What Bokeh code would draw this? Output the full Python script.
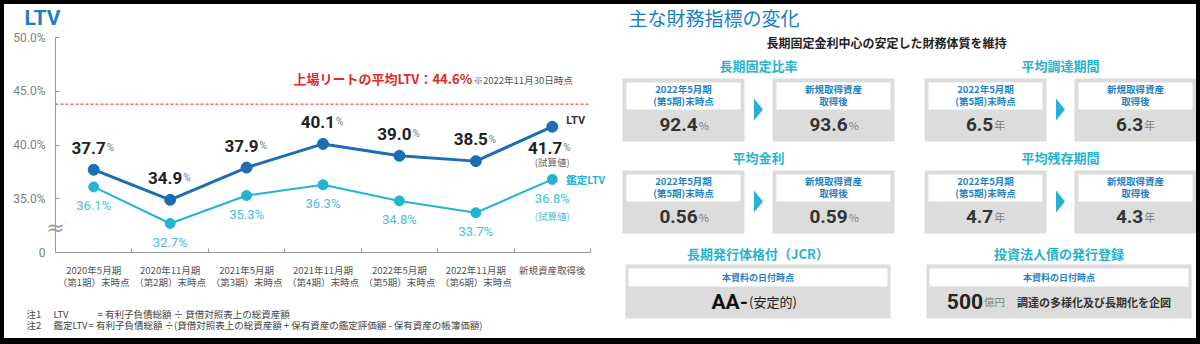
from bokeh.plotting import figure
from bokeh.models import Range1d, FixedTicker, Label, ColumnDataSource, Spacer
from bokeh.layouts import row, column
from bokeh.embed import file_html
from bokeh.resources import INLINE
from bokeh.core.properties import value

# ---------------- data (left chart) ----------------
periods = ["2020年5月期", "2020年11月期", "2021年5月期", "2021年11月期",
           "2022年5月期", "2022年11月期", "新規資産取得後"]
period_subs = ["（第1期）末時点", "（第2期）末時点", "（第3期）末時点", "（第4期）末時点",
               "（第5期）末時点", "（第6期）末時点", ""]
ltv = [37.7, 34.9, 37.9, 40.1, 39.0, 38.5, 41.7]
appraisal_ltv = [36.1, 32.7, 35.3, 36.3, 34.8, 33.7, 36.8]
listed_reit_avg_ltv = 44.6
avg_ltv_line_level = 43.8          # where the reference draws the dashed line
avg_ltv_asof = "※2022年11月30日時点"
estimate_note = "(試算値)"
y_ticks = [30, 35, 40, 45, 50]
y_tick_labels = ["0", "35.0%", "40.0%", "45.0%", "50.0%"]
note_ids = ["注1", "注2"]
note_terms = ["LTV", "鑑定LTV"]
note_formulas = ["= 有利子負債総額 ÷ 貸借対照表上の総資産額",
                 "= 有利子負債総額 ÷(貸借対照表上の総資産額 + 保有資産の鑑定評価額 - 保有資産の帳簿価額)"]

# ---------------- data (right panel) ----------------
panel_title = "主な財務指標の変化"
panel_subtitle = "長期固定金利中心の安定した財務体質を維持"
metric_names = ["長期固定比率", "平均調達期間", "平均金利", "平均残存期間"]
metric_before = ["92.4", "6.5", "0.56", "4.7"]
metric_after = ["93.6", "6.3", "0.59", "4.3"]
metric_units = ["%", "年", "%", "年"]
before_caption = "2022年5月期\n(第5期)末時点"
after_caption = "新規取得資産\n取得後"
asof_caption = "本資料の日付時点"
rating_title = "長期発行体格付（JCR）"
rating_value = "AA-"
rating_outlook = "(安定的)"
bond_title = "投資法人債の発行登録"
bond_amount = "500"
bond_unit = "億円"
bond_note = "調達の多様化及び長期化を企図"

# ---------------- styles ----------------
JP = "Noto Sans CJK JP"
NUM = "Roboto"
BLUE_T = "#1a80c2"
LTV_C = "#1b6db5"
ALTV_C = "#24b3d3"
ALTV_TXT = "#45bfdc"
CYAN = "#26b2cf"
RED = "#e02a2a"
AXIS_C = "#9a9a9a"
GRAY_BOX = "#dcdcdc"
BOX_TXT = "#2a7fbf"

# ---------------- page geometry (pixels) ----------------
PAGE_W, PAGE_H = 1200, 344
B_TOP, B_LEFT, B_RIGHT, B_BOT = 4, 4, 4, 6
SPLIT = 610                      # left / right panel boundary
INNER_H = PAGE_H - B_TOP - B_BOT
PLOT_L, PLOT_R, PLOT_T, PLOT_B = 55, 590, 37, 252   # LTV plot area
Y_LO, Y_HI = 30, 50

# ================= LEFT: LTV chart =================
n = len(periods)
xs = [i + 0.5 for i in range(n)]
ux = (PLOT_R - PLOT_L) / n
uy = (PLOT_B - PLOT_T) / (Y_HI - Y_LO)
x_range = Range1d(-(PLOT_L - B_LEFT) / ux, n + (SPLIT - PLOT_R) / ux)
y_range = Range1d(Y_LO - (PAGE_H - B_BOT - PLOT_B) / uy, Y_HI + (PLOT_T - B_TOP) / uy)

p1 = figure(width=SPLIT - B_LEFT, height=INNER_H, x_range=x_range, y_range=y_range,
            toolbar_location=None, output_backend="svg", title=None, min_border=0)
p1.outline_line_color = None
p1.xgrid.visible = False
p1.ygrid.visible = False

# y axis (fixed at the left edge of the plot area, limited to 0..50%)
p1.yaxis.fixed_location = 0
p1.yaxis.bounds = (Y_LO, Y_HI)
p1.yaxis.ticker = FixedTicker(ticks=y_ticks)
p1.yaxis.major_label_overrides = dict(zip(y_ticks, y_tick_labels))
p1.yaxis.axis_line_color = AXIS_C
p1.yaxis.major_tick_line_color = AXIS_C
p1.yaxis.major_tick_in = 4
p1.yaxis.major_tick_out = 0
p1.yaxis.minor_tick_line_color = None
p1.yaxis.major_label_text_font = NUM
p1.yaxis.major_label_text_font_size = "12px"
p1.yaxis.major_label_text_color = "#808080"
p1.yaxis.major_label_standoff = 10

# x axis (fixed at the "0" level)
p1.xaxis.fixed_location = Y_LO
p1.xaxis.bounds = (0, n)
p1.xaxis.ticker = FixedTicker(ticks=xs, minor_ticks=list(range(n + 1)))
p1.xaxis.major_label_overrides = {
    x: (a + "\n" + b if b else a) for x, a, b in zip(xs, periods, period_subs)}
p1.xaxis.axis_line_color = AXIS_C
p1.xaxis.major_tick_line_color = None
p1.xaxis.minor_tick_line_color = AXIS_C
p1.xaxis.minor_tick_in = 4
p1.xaxis.minor_tick_out = 0
p1.xaxis.major_label_text_font = JP
p1.xaxis.major_label_text_font_size = "9.5px"
p1.xaxis.major_label_text_color = "#555555"
p1.xaxis.major_label_text_line_height = 0.9
p1.xaxis.major_label_standoff = 4

# average LTV line (across the plot area only)
p1.segment(x0=[0], x1=[n], y0=[avg_ltv_line_level], y1=[avg_ltv_line_level],
           line_color=RED, line_dash="3 2", line_width=1)

# lines and markers
p1.line(xs, appraisal_ltv, line_color=ALTV_C, line_width=2)
p1.scatter(xs, appraisal_ltv, size=10, marker="circle", fill_color=ALTV_C, line_color=ALTV_C)
p1.line(xs, ltv, line_color=LTV_C, line_width=3)
p1.scatter(xs, ltv, size=11, marker="circle", fill_color=LTV_C, line_color=LTV_C)

# LTV value labels (historic: above the point)
hist = ColumnDataSource(dict(x=xs[:-1], y=ltv[:-1],
                             num=[f"{v:.1f}" for v in ltv[:-1]],
                             pct=["%"] * (n - 1)))
p1.text(x="x", y="y", text="num", source=hist, text_align="right", text_baseline="alphabetic",
        x_offset=12, y_offset=-22, text_font=value(NUM), text_font_style="bold",
        text_font_size="17px", text_color="#222222")
p1.text(x="x", y="y", text="pct", source=hist, text_align="left", text_baseline="alphabetic",
        x_offset=13, y_offset=-22, text_font=value(NUM), text_font_size="10px",
        text_color="#777777")
# estimate point: below-left
est = ColumnDataSource(dict(x=[xs[-1]], y=[ltv[-1]], num=[f"{ltv[-1]:.1f}"], pct=["%"],
                            note=[estimate_note]))
p1.text(x="x", y="y", text="num", source=est, text_align="right", text_baseline="alphabetic",
        x_offset=10, y_offset=21, text_font=value(NUM), text_font_style="bold",
        text_font_size="17px", text_color="#222222")
p1.text(x="x", y="y", text="pct", source=est, text_align="left", text_baseline="alphabetic",
        x_offset=11, y_offset=21, text_font=value(NUM), text_font_size="10px",
        text_color="#777777")
p1.text(x="x", y="y", text="note", source=est, text_align="center", text_baseline="middle",
        y_offset=35, text_font=value(JP), text_font_size="9.5px", text_color="#666666")

# appraisal LTV labels (below the point)
alab = ColumnDataSource(dict(x=xs, y=appraisal_ltv, t=[f"{v:.1f}%" for v in appraisal_ltv]))
p1.text(x="x", y="y", text="t", source=alab, text_align="center", text_baseline="middle",
        y_offset=19, text_font=value(NUM), text_font_size="13px", text_color=ALTV_TXT)
aest = ColumnDataSource(dict(x=[xs[-1]], y=[appraisal_ltv[-1]], note=[estimate_note]))
p1.text(x="x", y="y", text="note", source=aest, text_align="center", text_baseline="middle",
        y_offset=37, text_font=value(JP), text_font_size="9.5px", text_color=ALTV_TXT)

# series names next to the last points
p1.text(x=[xs[-1]], y=[ltv[-1]], text=["LTV"], x_offset=14, text_font=value(NUM),
        text_font_style="bold", text_font_size="11px", text_color="#333333",
        text_align="left", text_baseline="bottom")
p1.text(x=[xs[-1]], y=[appraisal_ltv[-1]], text=["鑑定LTV"], x_offset=14, text_font=value(JP),
        text_font_style="bold", text_font_size="10.5px", text_color=ALTV_C,
        text_align="left", text_baseline="middle")

# axis break mark
p1.text(x=[0], y=[Y_LO + 2.3], text=["≈"], text_font=value("DejaVu Sans"),
        text_font_size="22px", text_color="#999999", text_align="center",
        text_baseline="middle")


def canvas_label(fig, gx, gy, text, ox, **kw):
    fig.add_layout(Label(x=gx - ox, y=gy - B_TOP, x_units="canvas", y_units="canvas",
                         text=text, **kw))


# titles / annotations
canvas_label(p1, 24, 17, "LTV", B_LEFT, text_font=NUM, text_font_style="bold",
             text_font_size="21px", text_color=BLUE_T, text_align="left", text_baseline="middle")
canvas_label(p1, 293, 78, f"上場リートの平均LTV：{listed_reit_avg_ltv}%", B_LEFT, text_font=JP,
             text_font_style="bold", text_font_size="13px", text_color=RED,
             text_align="left", text_baseline="middle")
canvas_label(p1, 473, 79, avg_ltv_asof, B_LEFT, text_font=JP, text_font_size="9.5px",
             text_color="#555555", text_align="left", text_baseline="middle")
note_x = [[26, 53, 97], [26, 53, 88]]
for i in range(len(note_ids)):
    gy = 313 + 11 * i
    for gx, t in zip(note_x[i], [note_ids[i], note_terms[i], note_formulas[i]]):
        canvas_label(p1, gx, gy, t, B_LEFT, text_font=JP, text_font_size="9.5px",
                     text_color="#444444", text_align="left", text_baseline="middle")

# ================= RIGHT: financial indicators =================
X0, X1 = SPLIT, PAGE_W - B_RIGHT
Y0, Y1 = B_TOP, PAGE_H - B_BOT
p2 = figure(width=X1 - X0, height=Y1 - Y0, x_range=Range1d(X0, X1), y_range=Range1d(Y1, Y0),
            x_axis_location=None, y_axis_location=None, toolbar_location=None,
            output_backend="svg", min_border=0, title=None)
p2.grid.visible = False
p2.outline_line_color = None

p2.text(x=[628], y=[17], text=[panel_title], text_font=value(JP), text_font_size="19px",
        text_color=BLUE_T, text_align="left", text_baseline="middle")
p2.text(x=[886], y=[42], text=[panel_subtitle], text_font=value(JP), text_font_style="bold",
        text_font_size="12px", text_color="#222222", text_align="center", text_baseline="middle")

group_left = [622, 924]
box_w, box_h, box_gap = 122, 63, 28
row_top = [78, 170]
inset, inner_h = 4, 27


def num_width(s, size):
    return sum(0.565 if c.isdigit() else 0.26 for c in s) * size


for k in range(len(metric_names)):
    g = k % 2
    r = k // 2
    gl = group_left[g]
    top = row_top[r]
    lefts = [gl, gl + box_w + box_gap]
    gcenter = gl + box_w + box_gap / 2
    p2.text(x=[gcenter], y=[top - 13], text=[metric_names[k]], text_font=value(JP),
            text_font_style="bold", text_font_size="13px", text_color=CYAN,
            text_align="center", text_baseline="middle")
    p2.quad(left=lefts, right=[l + box_w for l in lefts], top=[top] * 2,
            bottom=[top + box_h] * 2, fill_color=GRAY_BOX, line_color=None)
    p2.quad(left=[l + inset for l in lefts], right=[l + box_w - inset for l in lefts],
            top=[top + inset] * 2, bottom=[top + inset + inner_h] * 2,
            fill_color="white", line_color=None)
    centers = [l + box_w / 2 for l in lefts]
    p2.text(x=centers, y=[top + inset + inner_h / 2 - 1] * 2,
            text=[before_caption, after_caption], text_font=value(JP), text_font_style="bold",
            text_font_size="9.5px", text_color=BOX_TXT, text_align="center",
            text_baseline="middle", text_line_height=0.8)
    vals = [metric_before[k], metric_after[k]]
    unit = metric_units[k]
    unit_w = (0.8 if unit == "%" else 1.0) * 11
    for c, v in zip(centers, vals):
        off = (num_width(v, 19) - unit_w) / 2
        p2.text(x=[c], y=[top + 46], text=[v], x_offset=off, text_font=value(NUM),
                text_font_style="bold", text_font_size="19px", text_color="#333333",
                text_align="right", text_baseline="alphabetic")
        p2.text(x=[c], y=[top + 46], text=[unit], x_offset=off + 1, text_font=value(JP),
                text_font_size="11px", text_color="#808080", text_align="left",
                text_baseline="alphabetic")
    ay = top + 31
    ax = gcenter
    p2.patches(xs=[[ax - 4.5, ax + 4.5, ax - 4.5]], ys=[[ay - 11, ay, ay + 11]],
               fill_color=ALTV_C, line_color=None)

# bottom row
wide_left = [625, 926]
wide_w = 265
wtop, wh, winner = 264, 54, 18
wcenters = [l + wide_w / 2 for l in wide_left]
p2.text(x=wcenters, y=[wtop - 11] * 2, text=[rating_title, bond_title], text_font=value(JP),
        text_font_style="bold", text_font_size="13px", text_color=CYAN,
        text_align="center", text_baseline="middle")
p2.quad(left=wide_left, right=[l + wide_w for l in wide_left], top=[wtop] * 2,
        bottom=[wtop + wh] * 2, fill_color=GRAY_BOX, line_color=None)
p2.quad(left=[l + 3 for l in wide_left], right=[l + wide_w - 3 for l in wide_left],
        top=[wtop + 4] * 2, bottom=[wtop + 4 + winner] * 2, fill_color="white", line_color=None)
p2.text(x=wcenters, y=[wtop + 13] * 2, text=[asof_caption] * 2, text_font=value(JP),
        text_font_style="bold", text_font_size="9px", text_color=BOX_TXT,
        text_align="center", text_baseline="middle")
vy = wtop + 37
c0, c1 = wcenters
p2.text(x=[c0], y=[vy], text=[rating_value], x_offset=-10, text_font=value(NUM),
        text_font_style="bold", text_font_size="21px", text_color="#111111",
        text_align="right", text_baseline="alphabetic")
p2.text(x=[c0], y=[vy], text=[rating_outlook], x_offset=-9, text_font=value(JP),
        text_font_size="13px", text_color="#222222", text_align="left",
        text_baseline="alphabetic")
p2.text(x=[c1], y=[vy], text=[bond_amount], x_offset=-76, text_font=value(NUM),
        text_font_style="bold", text_font_size="21px", text_color="#222222",
        text_align="right", text_baseline="alphabetic")
p2.text(x=[c1], y=[vy], text=[bond_unit], x_offset=-75, text_font=value(JP),
        text_font_size="10.5px", text_color="#808080", text_align="left",
        text_baseline="alphabetic")
p2.text(x=[c1], y=[vy], text=[bond_note], x_offset=-42, text_font=value(JP),
        text_font_style="bold", text_font_size="11px", text_color="#333333",
        text_align="left", text_baseline="alphabetic")


# ================= frame & layout =================
def black(w, h):
    return Spacer(width=w, height=h, styles={"background-color": "black"})


layout = column(black(PAGE_W, B_TOP),
                row(black(B_LEFT, INNER_H), p1, p2, black(B_RIGHT, INNER_H)),
                black(PAGE_W, B_BOT))

open("out.html", "w").write(file_html(layout, INLINE))
